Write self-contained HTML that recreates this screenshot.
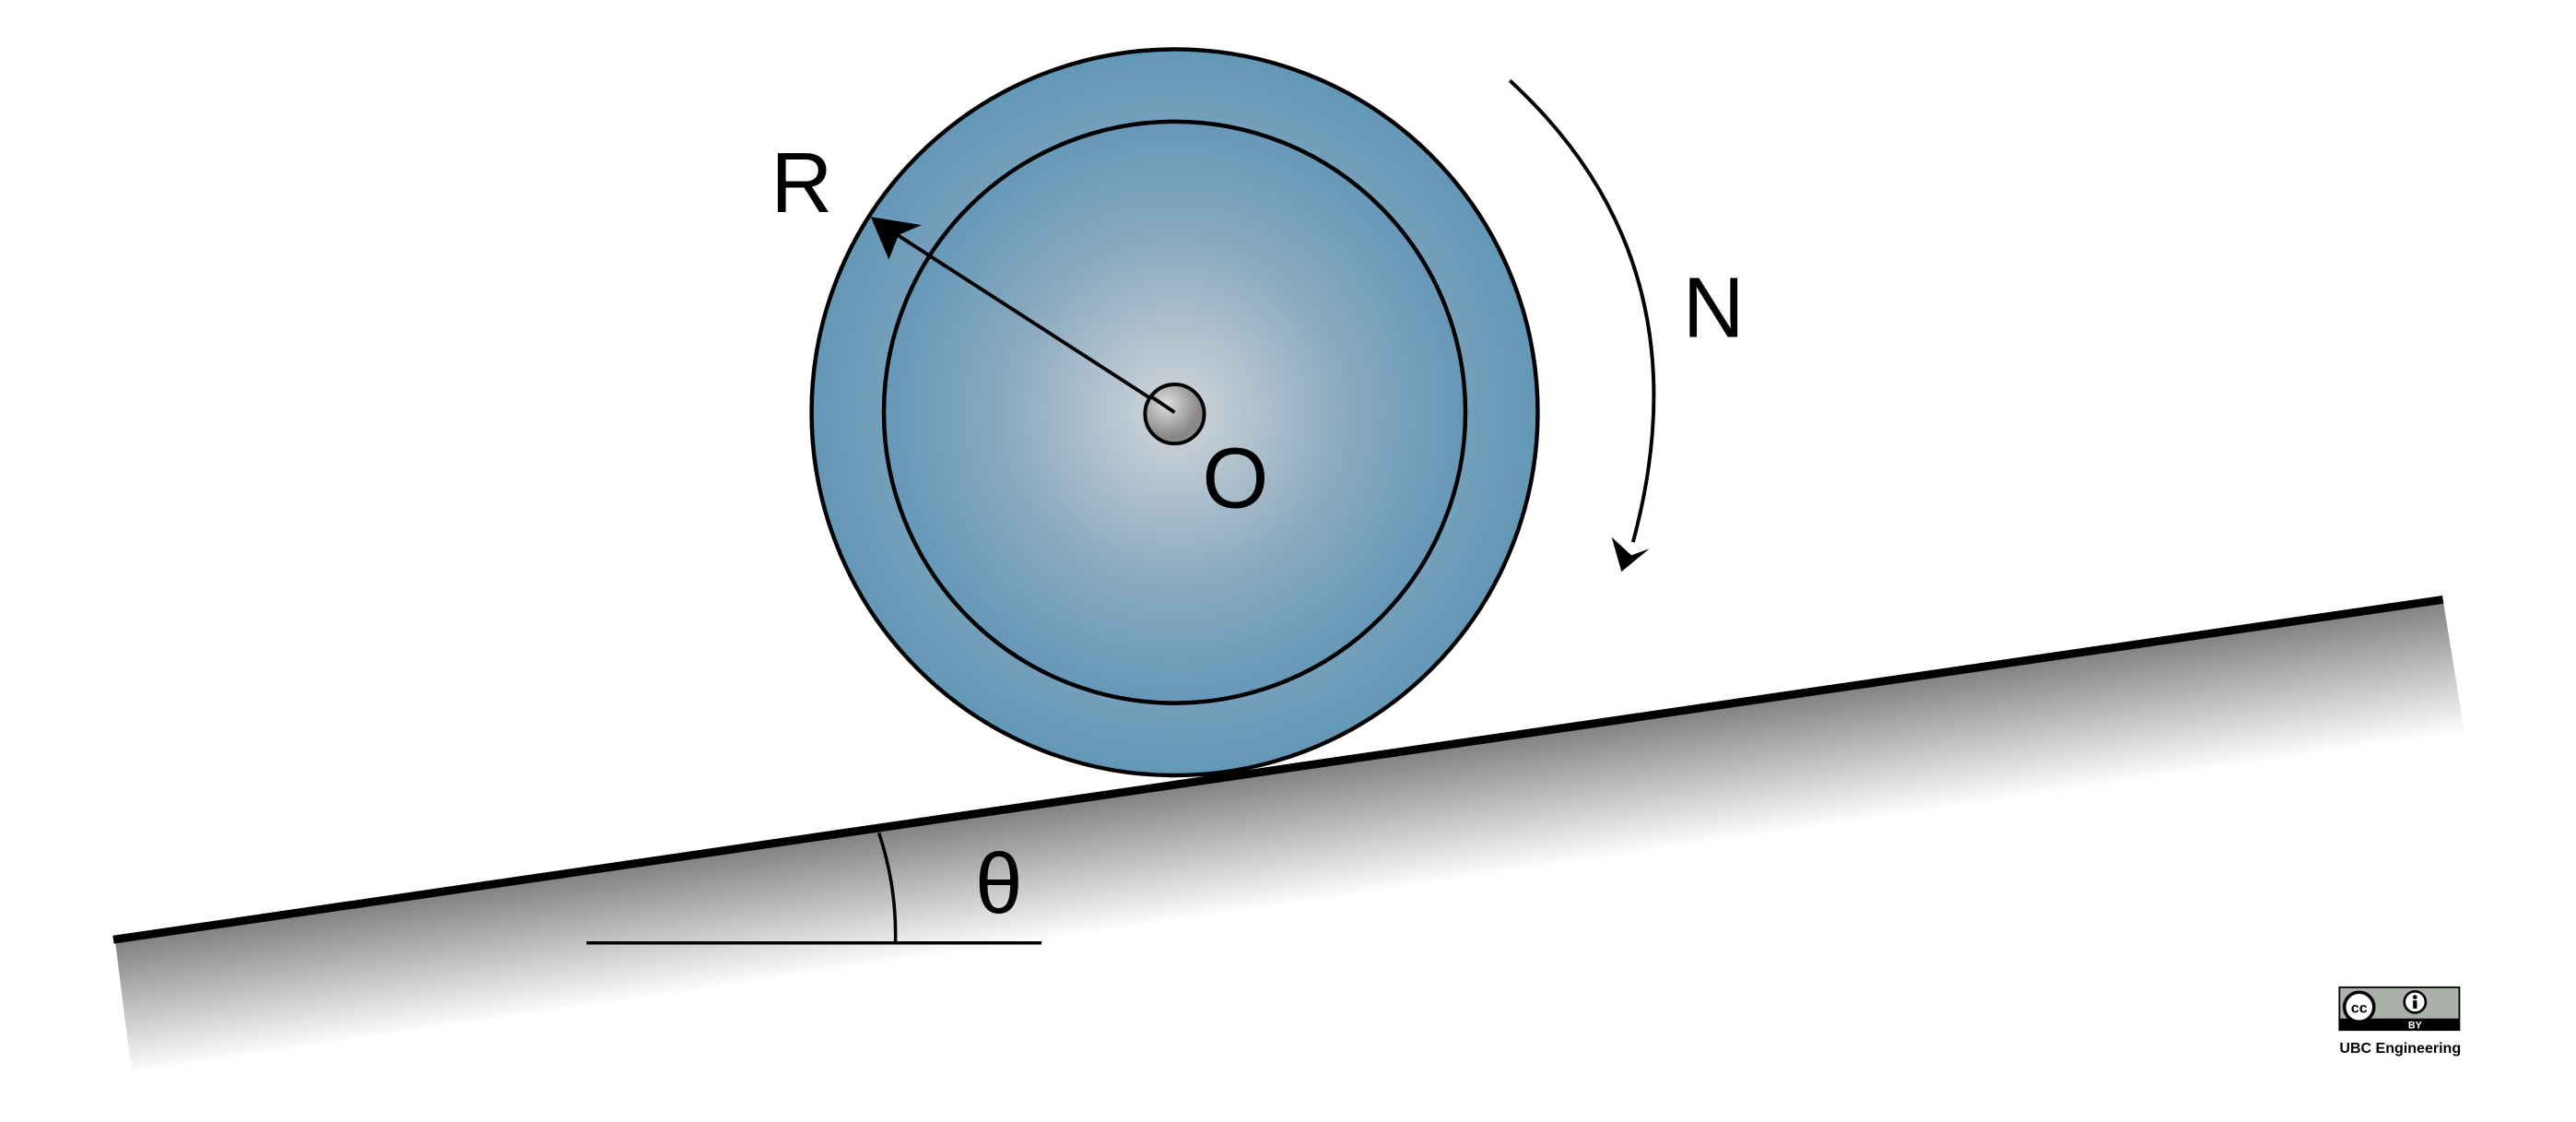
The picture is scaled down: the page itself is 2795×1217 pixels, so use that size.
<!DOCTYPE html>
<html><head><meta charset="utf-8"><style>html,body{margin:0;padding:0;background:#fff}svg{display:block}</style></head>
<body>
<svg width="2795" height="1217" viewBox="0 0 1568 683" preserveAspectRatio="none" xmlns="http://www.w3.org/2000/svg">
<defs>
<radialGradient id="wg" cx="715" cy="251" r="221" gradientUnits="userSpaceOnUse">
<stop offset="0" stop-color="#d2d6da"/><stop offset="0.55" stop-color="#89aac0"/><stop offset="1" stop-color="#6497b7"/></radialGradient>
<radialGradient id="ig" cx="715" cy="251" r="177" gradientUnits="userSpaceOnUse">
<stop offset="0" stop-color="#d2d6da"/><stop offset="0.6" stop-color="#88a9bf"/><stop offset="1" stop-color="#6698b8"/></radialGradient>
<radialGradient id="hg" cx="710" cy="246" r="20" gradientUnits="userSpaceOnUse">
<stop offset="0" stop-color="#e0e0e0"/><stop offset="1" stop-color="#888"/></radialGradient>
<linearGradient id="sg" x1="770" y1="470" x2="782" y2="552" gradientUnits="userSpaceOnUse">
<stop offset="0" stop-color="#808080"/><stop offset="1" stop-color="#fff"/></linearGradient>
</defs>
<polygon points="70,572 1487,365 1500,445 80,652" fill="url(#sg)"/>
<line x1="69" y1="572" x2="1487" y2="365" stroke="#000" stroke-width="5"/>
<line x1="357" y1="574" x2="634" y2="574" stroke="#000" stroke-width="2"/>
<path d="M535,507 Q546,540 545,574" fill="none" stroke="#000" stroke-width="2"/>
<text x="608" y="556" font-family="Liberation Sans, sans-serif" font-size="52" text-anchor="middle">θ</text>
<circle cx="715" cy="251" r="221" fill="url(#wg)" stroke="#000" stroke-width="2.5"/>
<circle cx="715" cy="251" r="177" fill="url(#ig)" stroke="#000" stroke-width="2.5"/>
<line x1="712" y1="250" x2="540" y2="139" stroke="#000" stroke-width="2.2"/>
<polygon points="530,132 561,137 547,143 541,158" fill="#000"/>
<circle cx="715" cy="252" r="18" fill="url(#hg)" stroke="#000" stroke-width="2.2"/>
<line x1="715" y1="251" x2="700" y2="241" stroke="#000" stroke-width="2.2"/>
<text x="488" y="129" font-family="Liberation Sans, sans-serif" font-size="52" text-anchor="middle">R</text>
<text x="752" y="309" font-family="Liberation Sans, sans-serif" font-size="52" text-anchor="middle">O</text>
<text x="1043" y="205" font-family="Liberation Sans, sans-serif" font-size="52" text-anchor="middle">N</text>
<path d="M919,49 Q1040,160 994,330" fill="none" stroke="#000" stroke-width="2.2"/>
<polygon points="987,348 981,327 993,338 1004,334" fill="#000"/>
<g>
<rect x="1424" y="601" width="73" height="26" fill="#abb1aa" stroke="#000" stroke-width="1"/>
<rect x="1424" y="620" width="73" height="7" fill="#000"/>
<text x="1470" y="626" font-family="Liberation Sans, sans-serif" font-size="6" font-weight="bold" fill="#fff" text-anchor="middle">BY</text>
<circle cx="1436" cy="613" r="9" fill="#fff" stroke="#000" stroke-width="2"/>
<text x="1436" y="616.5" font-family="Liberation Sans, sans-serif" font-size="9" font-weight="bold" text-anchor="middle">cc</text>
<circle cx="1470" cy="610" r="6.5" fill="#fff" stroke="#000" stroke-width="1.5"/>
<circle cx="1470" cy="607" r="1.3" fill="#000"/>
<rect x="1468.8" y="609" width="2.4" height="5" fill="#000"/>
</g>
<text x="1461" y="641" font-family="Liberation Sans, sans-serif" font-size="9" font-weight="bold" text-anchor="middle">UBC Engineering</text>
</svg>
</body></html>
